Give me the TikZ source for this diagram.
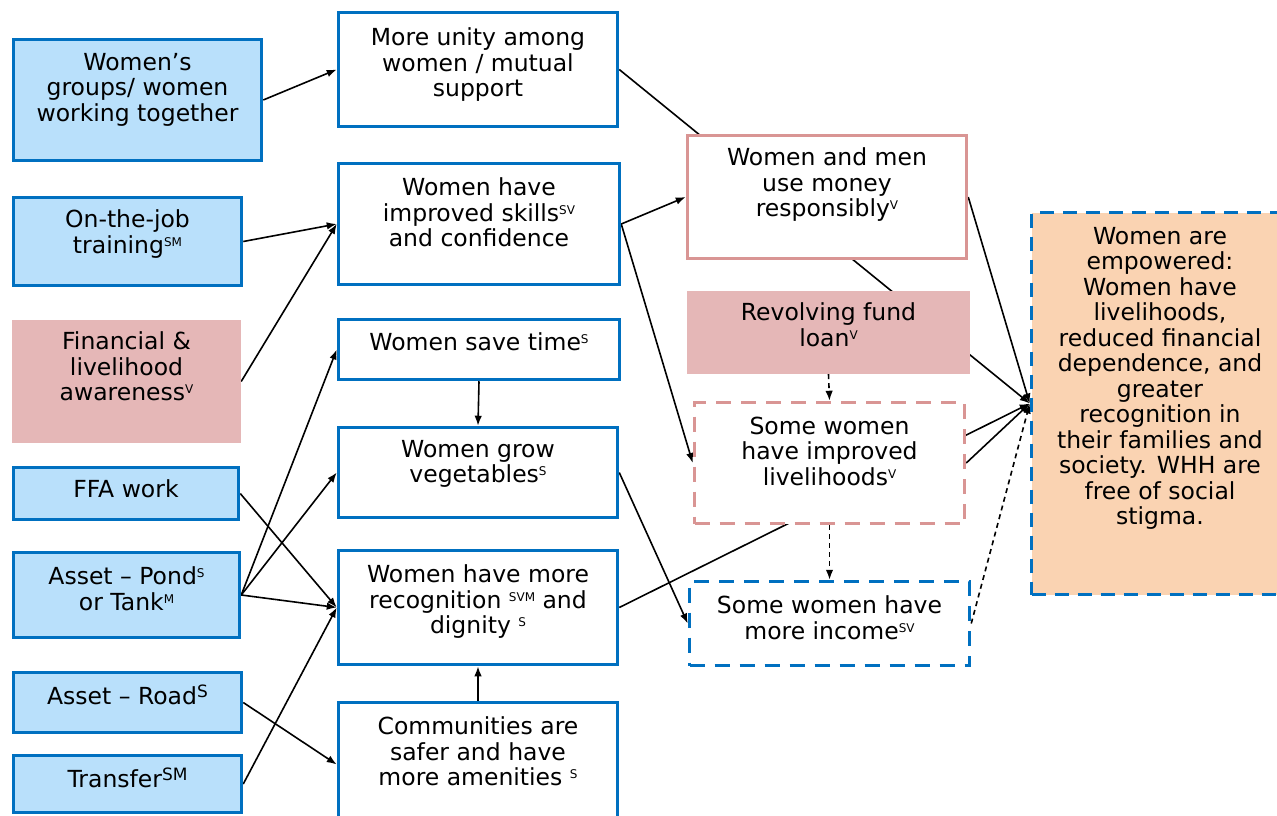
\documentclass[tikz,border=0pt]{standalone}
\usepackage{fontspec}
\setmainfont{DejaVu Sans}
\usetikzlibrary{arrows.meta}
\pgfdeclarelayer{bg}
\pgfsetlayers{bg,main}
\definecolor{bblue}{HTML}{0070C0}
\definecolor{lblue}{HTML}{B9E0FB}
\definecolor{pinkf}{HTML}{E5B7B7}
\definecolor{pinkb}{HTML}{D99594}
\definecolor{peach}{HTML}{FAD3B2}
\newcommand\supa[1]{\raisebox{7pt}{\fontsize{12}{12}\selectfont #1}}
\newcommand\supb[1]{\raisebox{7pt}{\fontsize{17}{17}\selectfont #1}}
\newcommand\bx[8]{%
  \node[#2, minimum width=#5pt, minimum height=#6pt, inner sep=0pt] (#1) at (#3,#4) {};
  \node[txt] (#1-t) at ([yshift=-#7pt]#1.north) {#8};}
\tikzset{
  txt/.style={align=center, inner sep=0pt, anchor=north, font=\fontsize{23.5}{25.5}\selectfont},
  inbox/.style={draw=bblue, line width=3.5pt, fill=lblue},
  finbox/.style={fill=pinkf},
  midbox/.style={draw=bblue, line width=3.5pt, fill=white},
  moneybox/.style={draw=pinkb, line width=3.5pt, fill=white},
  livbox/.style={draw=pinkb, line width=3.5pt, fill=white, dash pattern=on 15pt off 10pt},
  incbox/.style={draw=bblue, line width=3.5pt, fill=white, dash pattern=on 15pt off 10pt},
  goalbox/.style={draw=bblue, line width=3.5pt, fill=peach, dash pattern=on 14pt off 9pt},
  conn/.style={line width=1.6pt, -{Latex[length=10pt,width=7.5pt]}},
  dconn/.style={line width=1.6pt, dash pattern=on 5pt off 4pt, -{Latex[length=10pt,width=7.5pt]}},
}
\begin{document}
\begin{tikzpicture}[x=1pt,y=-1pt]
\useasboundingbox (0,0) rectangle (1277,816);
% left column
\bx{groups}{inbox}{137.5}{100}{248}{121}{15}{Women’s\\groups/ women\\working together}
\bx{ojt}{inbox}{127.5}{241.5}{228}{88}{14}{On-the-job\\training\supa{SM}}
\bx{fin}{finbox}{126.5}{381.5}{229}{123}{12}{Financial \&\\livelihood\\awareness\supa{V}}
\bx{ffa}{inbox}{126}{493.5}{225}{52}{14}{FFA work}
\bx{pond}{inbox}{126.5}{595}{226}{85}{16}{Asset – Pond\supa{S}\\or Tank\supa{M}}
\bx{road}{inbox}{127.5}{702.5}{228}{60}{14}{Asset – Road\supb{S}}
\bx{transfer}{inbox}{127.5}{784}{228}{57}{14}{Transfer\supb{SM}}
% middle column
\bx{unity}{midbox}{478}{69.5}{279}{114}{17}{More unity among\\women / mutual\\support}
\bx{skills}{midbox}{479}{224}{281}{121}{16}{Women have\\improved skills\supa{SV}\\and confidence}
\bx{save}{midbox}{479}{349.5}{281}{60}{15}{Women save time\supa{S}}
\bx{veg}{midbox}{478}{472.5}{279}{90}{14}{Women grow\\vegetables\supa{S}}
\bx{recog}{midbox}{478}{607.5}{279}{114}{16}{Women have more\\recognition \supa{SVM} and\\dignity \supa{S}}
\bx{comm}{midbox}{478}{764.5}{279}{124}{16}{Communities are\\safer and have\\more amenities \supa{S}}
% right-middle column
\bx{money}{moneybox}{827}{197}{279}{123}{14}{Women and men\\use money\\responsibly\supa{V}}
\bx{fund}{finbox}{828.5}{332.5}{283}{83}{12}{Revolving fund\\loan\supa{V}}
\bx{liv}{livbox}{829.5}{463}{270}{121}{16}{Some women\\have improved\\livelihoods\supa{V}}
\bx{income}{incbox}{829.5}{623.5}{280}{84}{16}{Some women have\\more income\supa{SV}}
% goal
\bx{final}{goalbox}{1160}{403.5}{257}{382}{16}{Women are\\empowered:\\Women have\\livelihoods,\\reduced financial\\dependence, and\\greater\\recognition in\\their families and\\society. WHH are\\free of social\\stigma.}
\begin{pgfonlayer}{bg}
\draw[conn] (groups.east) -- (unity.west);
\draw[conn] (ojt.east) -- (skills.west);
\draw[conn] (fin.east) -- (skills.west);
\draw[conn] (save.south) -- (veg.north);
\draw[conn] (ffa.east) -- (recog.west);
\draw[conn] (pond.east) -- (save.west);
\draw[conn] (pond.east) -- (veg.west);
\draw[conn] (pond.east) -- (recog.west);
\draw[conn] (road.east) -- (comm.west);
\draw[conn] (transfer.east) -- (recog.west);
\draw[conn] (comm.north) -- (recog.south);
\draw[conn] (unity.east) -- (final.west);
\draw[conn] (skills.east) -- (money.west);
\draw[conn] (skills.east) -- (liv.west);
\draw[conn] (money.east) -- (final.west);
\draw[conn] (liv.east) -- (final.west);
\draw[conn] (recog.east) -- (final.west);
\draw[conn] (veg.east) -- (income.west);
\draw[dconn] (fund.south) -- (liv.north);
\draw[dconn] (liv.south) -- (income.north);
\draw[dconn] (income.east) -- (final.west);
\end{pgfonlayer}
\end{tikzpicture}
\end{document}
